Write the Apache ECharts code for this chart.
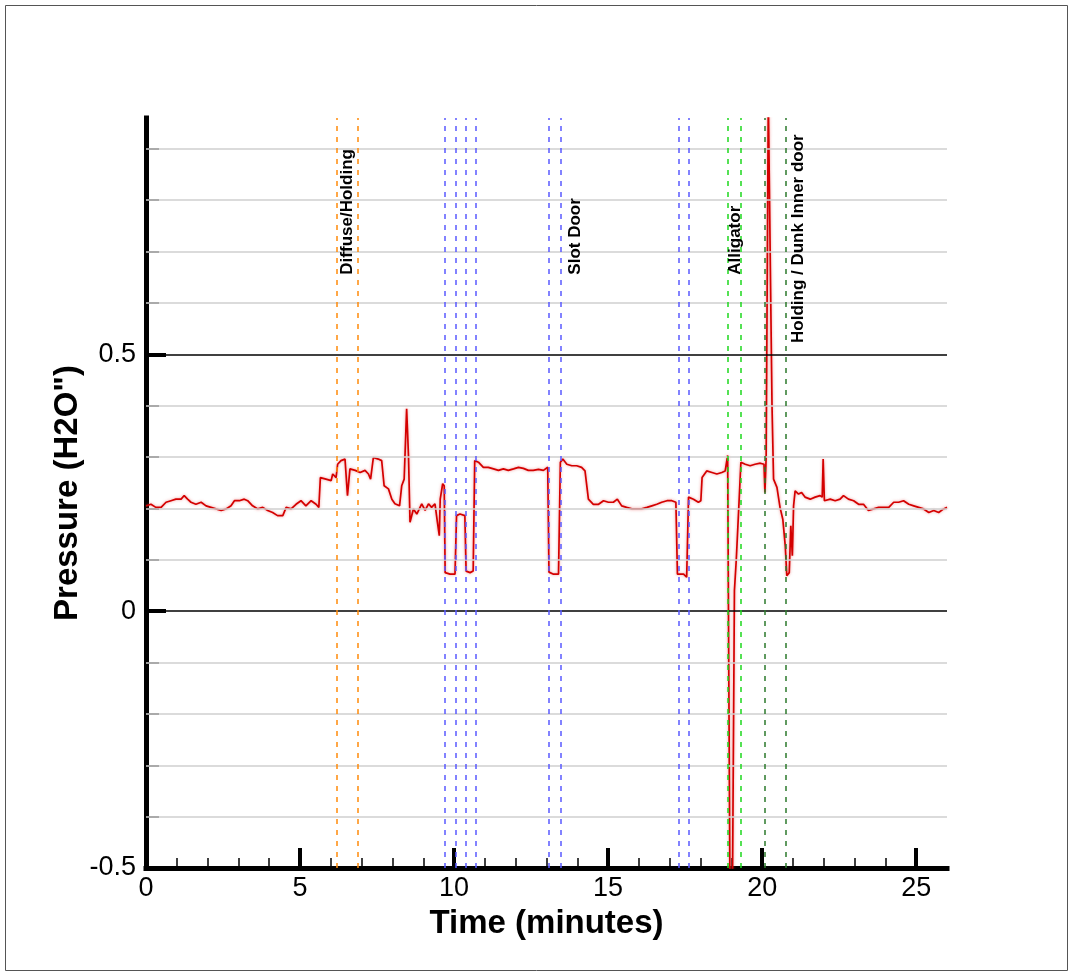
<!DOCTYPE html>
<html>
<head>
<meta charset="utf-8">
<script src="https://cdn.jsdelivr.net/npm/echarts@6/dist/echarts.min.js"></script>
<style>
  html, body { margin: 0; padding: 0; background: #ffffff; }
  #chart { width: 1071px; height: 974px; }
</style>
</head>
<body>
<div id="chart"></div>
<script>
// Pressure trace: time in minutes and pressure in inches of water
const timeMin = [
  0.00, 0.16, 0.32, 0.49, 0.65, 0.81, 0.97, 1.14, 1.24, 1.35, 1.46, 1.62, 1.79, 1.95,
  2.11, 2.27, 2.44, 2.60, 2.76, 2.87, 3.03, 3.19, 3.30, 3.46, 3.63, 3.79, 3.95, 4.11,
  4.27, 4.44, 4.55, 4.71, 4.87, 5.03, 5.19, 5.36, 5.52, 5.61, 5.66, 5.84, 6.01, 6.06,
  6.17, 6.22, 6.33, 6.46, 6.54, 6.62, 6.79, 6.95, 7.11, 7.22, 7.29, 7.38, 7.54, 7.65,
  7.73, 7.87, 7.98, 8.08, 8.23, 8.30, 8.38, 8.46, 8.52, 8.57, 8.68, 8.79, 8.95, 9.06,
  9.17, 9.27, 9.38, 9.46, 9.52, 9.55, 9.63, 9.68, 9.71, 9.87, 10.03, 10.08, 10.19, 10.35,
  10.39, 10.52, 10.62, 10.67, 10.79, 10.95, 11.11, 11.28, 11.44, 11.60, 11.76, 11.93, 12.09, 12.25,
  12.41, 12.57, 12.74, 12.90, 13.04, 13.08, 13.23, 13.39, 13.45, 13.53, 13.66, 13.82, 13.98, 14.14,
  14.25, 14.36, 14.52, 14.69, 14.85, 15.01, 15.17, 15.30, 15.44, 15.60, 15.77, 15.93, 16.09, 16.26,
  16.42, 16.58, 16.74, 16.91, 17.07, 17.20, 17.25, 17.45, 17.55, 17.61, 17.77, 17.93, 18.01, 18.05,
  18.20, 18.37, 18.53, 18.69, 18.80, 18.88, 18.96, 19.03, 19.10, 19.16, 19.24, 19.31, 19.45, 19.61,
  19.77, 19.94, 20.06, 20.09, 20.13, 20.20, 20.26, 20.32, 20.37, 20.48, 20.58, 20.67, 20.75, 20.80,
  20.88, 20.93, 20.98, 21.02, 21.07, 21.18, 21.28, 21.39, 21.56, 21.72, 21.88, 21.95, 21.98, 22.02,
  22.21, 22.37, 22.53, 22.64, 22.80, 22.97, 23.13, 23.29, 23.45, 23.62, 23.78, 23.94, 24.11, 24.27,
  24.43, 24.59, 24.76, 24.92, 25.08, 25.24, 25.41, 25.57, 25.73, 25.89, 26.00
];
const pressure = [
  0.205, 0.208, 0.202, 0.202, 0.212, 0.215, 0.218, 0.218, 0.225, 0.218, 0.212, 0.208, 0.212, 0.205,
  0.202, 0.199, 0.196, 0.199, 0.205, 0.215, 0.215, 0.218, 0.215, 0.205, 0.199, 0.202, 0.196, 0.192,
  0.186, 0.186, 0.202, 0.199, 0.208, 0.215, 0.205, 0.215, 0.208, 0.202, 0.260, 0.257, 0.254, 0.267,
  0.260, 0.286, 0.293, 0.296, 0.225, 0.277, 0.274, 0.270, 0.274, 0.267, 0.257, 0.299, 0.296, 0.293,
  0.244, 0.238, 0.218, 0.209, 0.205, 0.244, 0.257, 0.394, 0.303, 0.173, 0.199, 0.189, 0.209, 0.196,
  0.209, 0.202, 0.209, 0.173, 0.147, 0.218, 0.248, 0.244, 0.075, 0.072, 0.072, 0.186, 0.189, 0.186,
  0.078, 0.075, 0.078, 0.293, 0.290, 0.280, 0.280, 0.277, 0.274, 0.277, 0.274, 0.277, 0.280, 0.278,
  0.274, 0.274, 0.276, 0.274, 0.280, 0.076, 0.072, 0.072, 0.290, 0.296, 0.286, 0.283, 0.283, 0.280,
  0.273, 0.218, 0.208, 0.208, 0.215, 0.212, 0.212, 0.218, 0.205, 0.202, 0.199, 0.199, 0.199, 0.202,
  0.205, 0.208, 0.212, 0.215, 0.215, 0.212, 0.072, 0.072, 0.066, 0.222, 0.218, 0.212, 0.215, 0.260,
  0.273, 0.270, 0.267, 0.270, 0.273, 0.303, -0.600, -0.600, 0.040, 0.100, 0.200, 0.290, 0.286, 0.283,
  0.286, 0.288, 0.286, 0.231, 0.300, 1.000, 0.700, 0.400, 0.257, 0.241, 0.202, 0.179, 0.127, 0.069,
  0.075, 0.166, 0.108, 0.205, 0.234, 0.228, 0.231, 0.222, 0.218, 0.222, 0.225, 0.222, 0.296, 0.215,
  0.218, 0.215, 0.218, 0.225, 0.218, 0.215, 0.208, 0.208, 0.196, 0.199, 0.202, 0.202, 0.202, 0.212,
  0.212, 0.215, 0.208, 0.205, 0.202, 0.199, 0.192, 0.196, 0.192, 0.199, 0.202
];

// Event markers (minutes)
const diffuseHoldingTimes = [6.20, 6.88];
const slotDoorTimes = [9.70, 10.05, 10.38, 10.70, 13.08, 13.47, 17.28, 17.61];
const alligatorTimes = [18.89, 19.29];
const dunkDoorTimes = [20.10, 20.78];

// Event captions: text, time of caption centre, pressure where the caption starts
const captionText = ['Diffuse/Holding', 'Slot Door', 'Alligator', 'Holding / Dunk Inner door'];
const captionTime = [6.52, 13.93, 19.12, 21.17];
const captionValue = [0.655, 0.655, 0.655, 0.522];

// Axis ticks and labels
const xLabelValues = [0, 5, 10, 15, 20, 25];
const xMajorTicks = [5, 10, 15, 20, 25];
const xMinorTicks = [1, 2, 3, 4, 6, 7, 8, 9, 11, 12, 13, 14, 16, 17, 18, 19, 21, 22, 23, 24];
const yLabelValues = [-0.5, 0, 0.5];
const yMajorTicks = [0, 0.5];
const yMinorTicks = [-0.4, -0.3, -0.2, -0.1, 0.1, 0.2, 0.3, 0.4, 0.6, 0.7, 0.8, 0.9];
const yGridLight = [-0.4, -0.3, -0.2, -0.1, 0.1, 0.2, 0.3, 0.4, 0.6, 0.7, 0.8, 0.9];
const yGridDark = [0, 0.5];

const FONT = '"Liberation Sans", Arial, Helvetica, sans-serif';

const chart = echarts.init(document.getElementById('chart'), null, { renderer: 'canvas' });

function eventLines(times, color) {
  return times.map(t => ({
    xAxis: t,
    lineStyle: { color: color, width: 1.5, type: [5, 6] }
  }));
}

const trace = timeMin.map((t, i) => [t, pressure[i]]);

const axisFontStyle = { fontFamily: FONT, fontSize: 27, color: '#000' };
const titleStyle = { fontFamily: FONT, fontSize: 33, fontWeight: 'bold', color: '#000' };

const option = {
  animation: false,
  backgroundColor: '#ffffff',
  grid: { left: 146, right: 124, top: 118, bottom: 106, containLabel: false },
  xAxis: [
    {
      type: 'value', gridIndex: 0, position: 'bottom', min: 0, max: 26, interval: 1,
      name: 'Time (minutes)', nameLocation: 'middle', nameGap: 39, nameMoveOverlap: false,
      nameTextStyle: titleStyle,
      axisLine: { show: true, onZero: false, lineStyle: { color: '#000', width: 5, cap: 'square' } },
      axisTick: { show: true, inside: true, length: 10, customValues: xMinorTicks,
                  lineStyle: { color: '#000', width: 1.5 } },
      axisLabel: { show: false },
      splitLine: { show: false }
    },
    {
      type: 'value', gridIndex: 0, position: 'bottom', offset: 0, min: 0, max: 26, interval: 1,
      axisLine: { show: false, onZero: false },
      axisTick: { show: true, inside: true, length: 20, customValues: xMajorTicks,
                  lineStyle: { color: '#000', width: 4 } },
      axisLabel: Object.assign({ show: true, margin: 7, customValues: xLabelValues }, axisFontStyle),
      splitLine: { show: false }
    }
  ],
  yAxis: [
    {
      type: 'value', gridIndex: 0, position: 'left', min: -0.5, max: 0.96, interval: 0.1,
      name: 'Pressure (H2O")', nameLocation: 'middle', nameGap: 62, nameMoveOverlap: false,
      nameTextStyle: titleStyle,
      axisLine: { show: true, onZero: false, lineStyle: { color: '#000', width: 5, cap: 'square' } },
      axisTick: { show: true, inside: true, length: 13, customValues: yMinorTicks,
                  lineStyle: { color: '#000', width: 1.5 } },
      axisLabel: { show: false },
      splitLine: { show: false }
    },
    {
      type: 'value', gridIndex: 0, position: 'left', offset: 0, min: -0.5, max: 0.96, interval: 0.1,
      axisLine: { show: false, onZero: false },
      axisTick: { show: true, inside: true, length: 20, customValues: yMajorTicks,
                  lineStyle: { color: '#000', width: 4 } },
      axisLabel: Object.assign({ show: true, margin: 10, customValues: yLabelValues }, axisFontStyle),
      splitLine: { show: false }
    }
  ],
  series: [
    {
      // horizontal reference lines
      type: 'line', xAxisIndex: 0, yAxisIndex: 0, data: [], silent: true, z: 1,
      markLine: {
        silent: true, symbol: ['none', 'none'], label: { show: false },
        data: yGridLight.map(v => ({ yAxis: v, lineStyle: { color: '#cfcfcf', width: 1.5, type: 'solid' } }))
          .concat(yGridDark.map(v => ({ yAxis: v, lineStyle: { color: '#000', width: 1.5, type: 'solid' } })))
      }
    },
    {
      // event markers
      type: 'line', xAxisIndex: 0, yAxisIndex: 0, data: [], silent: true, z: 2,
      markLine: {
        silent: true, symbol: ['none', 'none'], label: { show: false },
        data: eventLines(diffuseHoldingTimes, '#ff8a0a')
          .concat(eventLines(slotDoorTimes, '#5a5aff'))
          .concat(eventLines(alligatorTimes, '#1ed81e'))
          .concat(eventLines(dunkDoorTimes, '#2c7a2c'))
      }
    },
    {
      name: 'Pressure', type: 'line', xAxisIndex: 0, yAxisIndex: 0, z: 3,
      data: trace, showSymbol: false, symbol: 'none', clip: true,
      lineStyle: { color: '#d40000', width: 1.7, shadowColor: 'rgba(225, 70, 70, 0.55)', shadowBlur: 3 }
    }
  ],
  graphic: [
    {
      type: 'rect', silent: true, z: 100,
      shape: { x: 5.5, y: 5.5, width: 1062, height: 965 },
      style: { fill: 'none', stroke: '#555', lineWidth: 1 }
    }
  ]
};

chart.setOption(option);

// Rotated event captions placed at data coordinates
const captions = captionText.map((txt, i) => {
  const p = chart.convertToPixel({ xAxisIndex: 0, yAxisIndex: 0 }, [captionTime[i], captionValue[i]]);
  return {
    type: 'text', silent: true, z: 50,
    x: p[0], y: p[1], rotation: Math.PI / 2,
    style: {
      text: txt, fill: '#000',
      font: 'bold 17px ' + FONT,
      textAlign: 'left', textVerticalAlign: 'middle',
      align: 'left', verticalAlign: 'middle'
    }
  };
});
chart.setOption({ graphic: option.graphic.concat(captions) });
</script>
</body>
</html>
